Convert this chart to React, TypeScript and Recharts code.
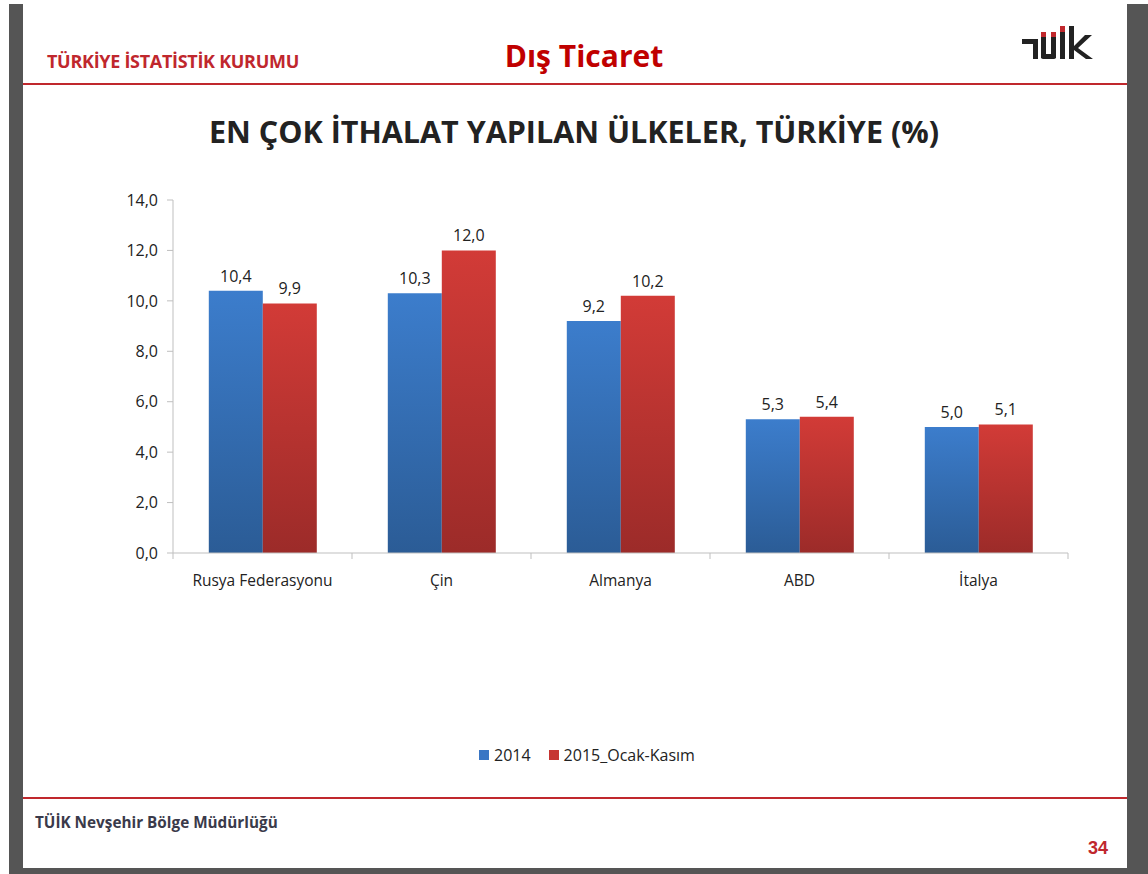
import { Bar, BarChart, LabelList, XAxis, YAxis } from 'recharts';

const countries = ['Rusya Federasyonu', 'Çin', 'Almanya', 'ABD', 'İtalya'];
const values2014 = [10.4, 10.3, 9.2, 5.3, 5.0];
const values2015 = [9.9, 12.0, 10.2, 5.4, 5.1];
const seriesNames = ['2014', '2015_Ocak-Kasım'];
const yTicks = [0, 2, 4, 6, 8, 10, 12, 14];

const data = countries.map((nome, i) => ({
  nome,
  v2014: values2014[i],
  v2015: values2015[i],
}));

const FONT = '"Open Sans", "Noto Sans", sans-serif';
const fmt = (v: number) => v.toFixed(1).replace('.', ',');

// Excel-style category ticks sit on the boundaries, not the centres
function CategoryTick(props: any) {
  const { x, y, payload, index } = props;
  const half = 89.5;
  return (
    <g>
      <line x1={x - half} y1={y - 8} x2={x - half} y2={y - 2} stroke="#bfbfbf" />
      {index === countries.length - 1 && (
        <line x1={x + half} y1={y - 8} x2={x + half} y2={y - 2} stroke="#bfbfbf" />
      )}
      <text x={x} y={y + 25} textAnchor="middle" fontSize={15.5} fill="#222" fontFamily={FONT}>
        {payload.value}
      </text>
    </g>
  );
}

function Logo() {
  return (
    <svg width={90} height={45} style={{ position: 'absolute', left: 1015, top: 25 }}>
      <rect x={7} y={14} width={16} height={5} fill="#222" />
      <rect x={18} y={14} width={5} height={20} fill="#222" />
      <rect x={26} y={7} width={5} height={5} fill="#c0282d" />
      <rect x={26} y={12} width={5} height={21} fill="#222" />
      <rect x={36} y={7} width={5} height={5} fill="#c0282d" />
      <rect x={36} y={12} width={5} height={21} fill="#222" />
      <rect x={26} y={29} width={15} height={5} rx={2} fill="#222" />
      <rect x={45} y={1} width={5} height={6} fill="#c0282d" />
      <rect x={45} y={7} width={5} height={27} fill="#222" />
      <rect x={54} y={1} width={5} height={33} fill="#222" />
      <polygon points="59,21 70,10 77,10 63,23 78,34 71,34 59,25" fill="#222" />
    </svg>
  );
}

export default function App() {
  return (
    <div style={{ position: 'absolute', left: 0, top: 0, width: 1148, height: 874, background: '#fff', overflow: 'hidden', fontFamily: FONT }}>
      {/* frame */}
      <div style={{ position: 'absolute', left: 9, top: 4, width: 14, height: 870, background: '#555' }} />
      <div style={{ position: 'absolute', left: 1127, top: 4, width: 21, height: 870, background: '#555' }} />
      <div style={{ position: 'absolute', left: 9, top: 868, width: 1139, height: 6, background: '#555' }} />
      <div style={{ position: 'absolute', left: 23, top: 83, width: 1104, height: 2, background: '#c0282d' }} />
      <div style={{ position: 'absolute', left: 23, top: 797, width: 1104, height: 2, background: '#c0282d' }} />

      <div style={{ position: 'absolute', left: 47, top: 49, fontSize: 18, fontWeight: 700, color: '#c0272d', letterSpacing: -0.3 }}>
        TÜRKİYE İSTATİSTİK KURUMU
      </div>
      <div style={{ position: 'absolute', left: 0, width: 1168, top: 35, textAlign: 'center', fontSize: 30, fontWeight: 700, color: '#c00000' }}>
        Dış Ticaret
      </div>
      <Logo />
      <div style={{ position: 'absolute', left: 0, width: 1148, top: 110, textAlign: 'center', fontSize: 30.5, fontWeight: 700, color: '#222' }}>
        EN ÇOK İTHALAT YAPILAN ÜLKELER, TÜRKİYE (%)
      </div>

      <div style={{ position: 'absolute', left: 0, top: 0 }}>
        <BarChart
          width={1148}
          height={874}
          data={data}
          margin={{ top: 200, right: 80, bottom: 291, left: 113 }}
          barCategoryGap="20%"
          barGap={0}
        >
          <defs>
            <linearGradient id="gBlue" x1="0" y1="0" x2="0" y2="1">
              <stop offset="0%" stopColor="#3c7dcc" />
              <stop offset="100%" stopColor="#2b5c96" />
            </linearGradient>
            <linearGradient id="gRed" x1="0" y1="0" x2="0" y2="1">
              <stop offset="0%" stopColor="#d23b37" />
              <stop offset="100%" stopColor="#9c2b29" />
            </linearGradient>
          </defs>
          <XAxis
            dataKey="nome"
            stroke="#bfbfbf"
            tickLine={false}
            tick={<CategoryTick />}
            height={30}
            interval={0}
          />
          <YAxis
            domain={[0, 14]}
            ticks={yTicks}
            width={60}
            stroke="#bfbfbf"
            tickSize={6}
            tickMargin={9}
            tickFormatter={fmt}
            tick={{ fontSize: 16, fill: '#222', fontFamily: FONT }}
            interval={0}
          />
          <Bar dataKey="v2014" name={seriesNames[0]} fill="url(#gBlue)" isAnimationActive={false}>
            <LabelList dataKey="v2014" position="top" offset={9} formatter={(v: any) => fmt(Number(v))} style={{ fontSize: 16, fill: '#222', fontFamily: FONT }} />
          </Bar>
          <Bar dataKey="v2015" name={seriesNames[1]} fill="url(#gRed)" isAnimationActive={false}>
            <LabelList dataKey="v2015" position="top" offset={9} formatter={(v: any) => fmt(Number(v))} style={{ fontSize: 16, fill: '#222', fontFamily: FONT }} />
          </Bar>
        </BarChart>
      </div>

      {/* legend */}
      <div style={{ position: 'absolute', left: 479, top: 744, display: 'flex', alignItems: 'center', fontSize: 16, color: '#222' }}>
        <span style={{ width: 10, height: 10, background: '#3a76c4', marginRight: 5 }} />
        <span style={{ marginRight: 18 }}>{seriesNames[0]}</span>
        <span style={{ width: 10, height: 10, background: '#c63532', marginRight: 5 }} />
        <span>{seriesNames[1]}</span>
      </div>

      <div style={{ position: 'absolute', left: 35, top: 812, fontSize: 15.3, fontWeight: 700, color: '#3a3a4a' }}>
        TÜİK Nevşehir Bölge Müdürlüğü
      </div>
      <div style={{ position: 'absolute', left: 1088, top: 838, fontSize: 18, fontWeight: 700, color: '#c0272d', fontFamily: '"Liberation Sans", Arial, sans-serif' }}>
        34
      </div>
    </div>
  );
}
